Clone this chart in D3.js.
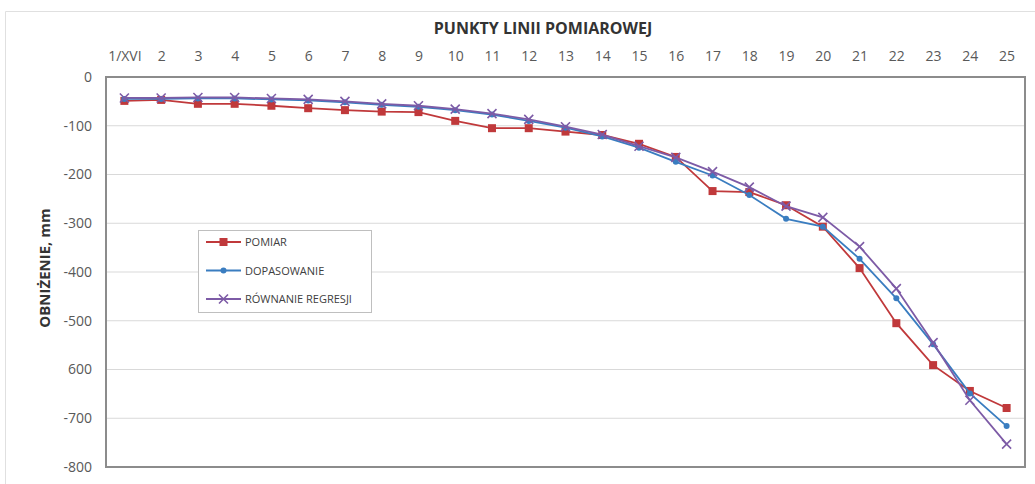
<!DOCTYPE html>
<html><head><meta charset="utf-8">
<script src="https://cdn.jsdelivr.net/npm/d3@7"></script>
<style>body{margin:0;background:#fff}svg{display:block}</style>
</head><body><svg id="c" width="1035" height="484"></svg>
<script>
const categories = ["1/XVI","2","3","4","5","6","7","8","9","10","11","12","13","14","15","16","17","18","19","20","21","22","23","24","25"];
const pomiar = [-49,-47,-55,-55,-59,-64,-68,-71,-72,-90,-105,-105,-112,-119,-137,-164,-234,-236,-263,-307,-392,-505,-591,-644,-679];
const dopasowanie = [-45,-45,-44,-44,-46,-48,-52,-57,-61,-68,-77,-90,-104,-122,-145,-174,-202,-242,-291,-307,-373,-454,-548,-649,-716];
const regresja = [-43,-43,-42,-42,-44,-46,-50,-55,-59,-66,-75,-87,-102,-118,-142,-165,-194,-226,-265,-288,-348,-434,-545,-663,-753];
const yTicks = [0,-100,-200,-300,-400,-500,-600,-700,-800];
const yTickLabels = ["0","-100","-200","-300","-400","-500","600","-700","-800"];
const seriesNames = ["POMIAR","DOPASOWANIE","RÓWNANIE REGRESJI"];

const svg = d3.select("#c");
const L = 106, R = 1025, T = 77, B = 467;
const x = d3.scalePoint().domain(categories).range([L, R]).padding(0.5);
const y = d3.scaleLinear().domain([-800, 0]).range([B, T]);
const font = "'Open Sans', 'Liberation Sans', sans-serif";

// outer chart border
svg.append("path").attr("d", "M5.5,484 V11.5 H1035").attr("fill","none").attr("stroke","#e0e0e0").attr("stroke-width",1);

// gridlines
svg.append("g").selectAll("line").data(yTicks.filter(d => d !== 0 && d !== -800)).join("line")
  .attr("x1", L).attr("x2", R).attr("y1", d => y(d)).attr("y2", d => y(d))
  .attr("stroke", "#d9d9d9").attr("stroke-width", 1);

// frame
svg.append("rect").attr("x", L).attr("y", T).attr("width", R - L).attr("height", B - T)
  .attr("fill", "none").attr("stroke", "#8c8c8c").attr("stroke-width", 2);

// y axis labels
const yAxis = d3.axisLeft(y).tickValues(yTicks).tickSize(0).tickPadding(14)
  .tickFormat((d, i) => yTickLabels[i]);
const yg = svg.append("g").attr("transform", `translate(${L},0)`).call(yAxis);
yg.select(".domain").remove();
yg.selectAll("text").attr("font-family", font).attr("font-size", 14).attr("fill", "#595959");

// x axis labels (top)
const xAxis = d3.axisTop(x).tickSize(0).tickPadding(0);
const xg = svg.append("g").attr("transform", `translate(0,${T - 16})`).call(xAxis);
xg.select(".domain").remove();
xg.selectAll("text").attr("font-family", font).attr("font-size", 14).attr("fill", "#595959");

// titles
svg.append("text").attr("x", 543).attr("y", 34).attr("text-anchor", "middle")
  .attr("font-family", font).attr("font-weight", "bold").attr("font-size", 16).attr("fill", "#333")
  .text("PUNKTY LINII POMIAROWEJ");
svg.append("text").attr("transform", "translate(50,268) rotate(-90)").attr("text-anchor", "middle")
  .attr("font-family", font).attr("font-weight", "bold").attr("font-size", 15).attr("fill", "#333")
  .text("OBNIŻENIE, mm");

const colors = ["#c0393b", "#3a7dc0", "#7d5ba6"];
const data = [pomiar, dopasowanie, regresja];
const line = d3.line().x((d, i) => x(categories[i])).y(d => y(d));

function marker(g, k, cx, cy) {
  if (k === 0) {
    g.append("rect").attr("x", cx - 4).attr("y", cy - 4).attr("width", 8).attr("height", 8).attr("fill", colors[0]);
  } else if (k === 1) {
    g.append("circle").attr("cx", cx).attr("cy", cy).attr("r", 3).attr("fill", colors[1]);
  } else {
    g.append("path").attr("d", `M${cx-4.5},${cy-4.5}L${cx+4.5},${cy+4.5}M${cx-4.5},${cy+4.5}L${cx+4.5},${cy-4.5}`)
      .attr("stroke", colors[2]).attr("stroke-width", 1.6);
  }
}

data.forEach((vals, k) => {
  const g = svg.append("g");
  g.append("path").datum(vals).attr("d", line).attr("fill", "none")
    .attr("stroke", colors[k]).attr("stroke-width", 1.8);
  vals.forEach((v, i) => marker(g, k, x(categories[i]), y(v)));
});

// legend
const lg = svg.append("g");
lg.append("rect").attr("x", 198.5).attr("y", 230.5).attr("width", 173).attr("height", 82)
  .attr("fill", "#fff").attr("stroke", "#bfbfbf").attr("stroke-width", 1);
seriesNames.forEach((n, k) => {
  const cy = 242 + k * 28.5;
  lg.append("line").attr("x1", 206).attr("x2", 241).attr("y1", cy).attr("y2", cy)
    .attr("stroke", colors[k]).attr("stroke-width", 1.8);
  marker(lg, k, 223.5, cy);
  lg.append("text").attr("x", 245).attr("y", cy + 4).attr("font-family", font).attr("font-size", 11)
    .attr("fill", "#404040").text(n);
});
</script></body></html>
